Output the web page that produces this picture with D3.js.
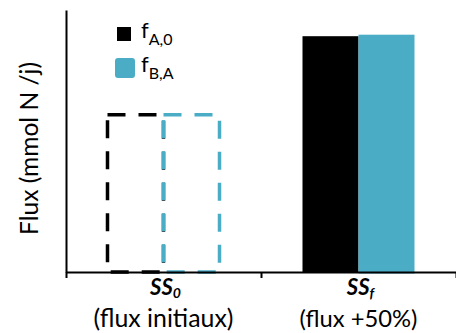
<!DOCTYPE html>
<html><head><meta charset="utf-8">
<script src="https://cdn.jsdelivr.net/npm/d3@7"></script>
<style>body{margin:0;background:#fff}svg{display:block}text{font-family:Lato,"Open Sans",sans-serif}</style>
</head><body>
<svg id="c" width="456" height="333"></svg>
<script>
const categories = ["SS0", "SSf"];
const catMain = ["SS", "SS"];
const catSub = ["0", "f"];
const catNote = ["(flux initiaux)", "(flux +50%)"];
const series = ["fA0", "fBA"];
const seriesSub = ["A,0", "B,A"];
const colors = ["#000000", "#4BACC6"];
const valuesA = [60, 90];
const valuesB = [60, 90];
const dashed = [true, false];
const yLabel = "Flux (mmol N /j)";

const svg = d3.select("#c");
const x0 = 66, x1 = 456, yTop = 10, yBase = 272;
const x = d3.scaleBand().domain(categories).range([x0, x1]).padding(0);
const xs = d3.scaleBand().domain(series).range([0, x.bandwidth()]).paddingInner(0).paddingOuter(0.741);
const y = d3.scaleLinear().domain([0, 100]).range([yBase, yTop]);

function fit(sel, w) {
  const L = sel.node().getComputedTextLength();
  const fs = parseFloat(sel.attr("font-size"));
  sel.attr("font-size", fs * w / L);
}

const rows = [];
categories.forEach((c, i) => {
  rows.push({c, s: series[0], v: valuesA[i], col: colors[0], dash: dashed[i], idx: 0});
  rows.push({c, s: series[1], v: valuesB[i], col: colors[1], dash: dashed[i], idx: 1});
});

// solid bars
svg.append("g").selectAll("rect").data(rows.filter(d => !d.dash)).join("rect")
  .attr("x", d => x(d.c) + xs(d.s) + (d.idx === 1 ? 1.5 : 0))
  .attr("y", d => y(d.v))
  .attr("width", d => xs.bandwidth() - (d.idx === 1 ? 3 : 0))
  .attr("height", d => y(0) - y(d.v))
  .attr("fill", d => d.col)
  .attr("stroke", d => d.idx === 1 ? d.col : "none")
  .attr("stroke-width", 3);

// dashed outline bars
svg.append("g").selectAll("rect").data(rows.filter(d => d.dash)).join("rect")
  .attr("x", d => x(d.c) + xs(d.s))
  .attr("y", d => y(d.v))
  .attr("width", xs.bandwidth())
  .attr("height", d => y(0) - y(d.v))
  .attr("fill", "none")
  .attr("stroke", d => d.col)
  .attr("stroke-width", 3.5)
  .attr("stroke-dasharray", "18,13");

// y axis
const ya = svg.append("g").attr("transform", `translate(${x0},0)`)
  .call(d3.axisLeft(y).tickValues([]).tickSizeOuter(0));
ya.select("path").attr("stroke", "#000").attr("stroke-width", 2);

// x axis with boundary ticks
const xl = d3.scaleLinear().domain([0, categories.length]).range([x0, x1]);
const xa = svg.append("g").attr("transform", `translate(0,${yBase})`)
  .call(d3.axisBottom(xl).tickValues(d3.range(categories.length + 1)).tickFormat("").tickSize(6).tickSizeOuter(0));
xa.select("path").attr("stroke", "#000").attr("stroke-width", 2);
xa.selectAll("line").attr("stroke", "#000").attr("stroke-width", 2);

// category labels
const noteW = [140, 118];
categories.forEach((c, i) => {
  const cx = x(c) + x.bandwidth() / 2;
  const t = svg.append("text").attr("x", cx + 2).attr("y", 295).attr("text-anchor", "middle")
    .attr("font-size", 22).attr("font-weight", "bold").attr("font-style", "italic");
  t.append("tspan").text(catMain[i]);
  t.append("tspan").attr("font-size", 14).attr("dy", 3).text(catSub[i]);
  const n = svg.append("text").attr("x", cx).attr("y", 327).attr("text-anchor", "middle")
    .attr("font-size", 20).text(catNote[i]);
  fit(n, noteW[i]);
});

// y label
const yl = svg.append("text").attr("transform", `translate(38,${(62 + 235) / 2}) rotate(-90)`)
  .attr("text-anchor", "middle").attr("font-size", 20).text(yLabel);
fit(yl, 173);

// legend
const leg = svg.append("g");
series.forEach((s, i) => {
  const ly = 34 + i * 34;
  if (i === 0) {
    leg.append("rect").attr("x", 117).attr("y", ly - 7).attr("width", 14).attr("height", 14).attr("fill", colors[i]);
  } else {
    leg.append("rect").attr("x", 115).attr("y", ly - 10).attr("width", 20).attr("height", 20).attr("rx", 3).attr("fill", colors[i]);
  }
  const t = leg.append("text").attr("x", 141).attr("y", ly + 4).attr("font-size", 22);
  t.append("tspan").text("f");
  t.append("tspan").attr("font-size", 16).attr("dy", 7).text(seriesSub[i]);
});
</script>
</body></html>
